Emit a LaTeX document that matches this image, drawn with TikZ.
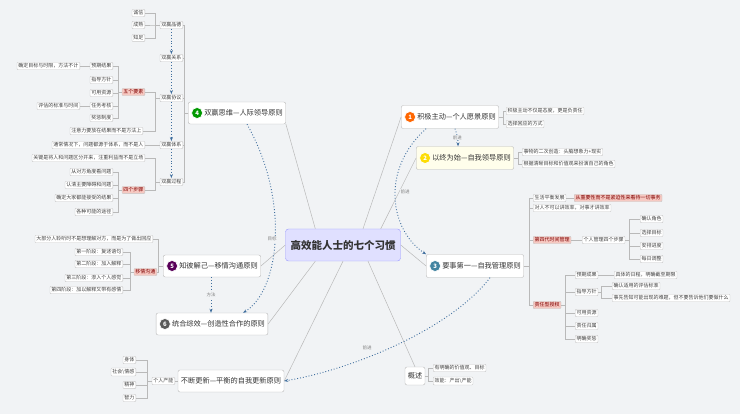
\documentclass[tikz,border=0pt]{standalone}
\usepackage{fontspec}
\setmainfont{Noto Sans CJK SC}
\usetikzlibrary{arrows.meta,calc}
\definecolor{bg}{HTML}{F1F3F5}
\definecolor{redf}{HTML}{F6C9C2}
\definecolor{lnk}{HTML}{3F6E9E}
\tikzset{
 sm/.style={draw=gray!45,fill=white,rounded corners=1pt,inner sep=1.4pt,font=\fontsize{5}{6}\selectfont,text=black!75},
 rd/.style={sm,fill=redf,text=red!50!black},
 big/.style={draw=gray!55,fill=white,rounded corners=2pt,inner sep=3pt,font=\fontsize{7.2}{9}\selectfont,text=black!80},
 conn/.style={draw=gray!55,line width=0.5pt},
 ray/.style={draw=gray!55,line width=0.5pt},
 dot/.style={draw=lnk,dotted,line width=0.9pt,-{Stealth[length=4pt]}},
 lab/.style={font=\fontsize{4.5}{5}\selectfont,text=gray,fill=bg,inner sep=0.5pt},
 ico/.style={circle,fill=#1,draw=white,line width=0.6pt,text=white,inner sep=0pt,minimum size=11pt,font=\fontsize{6}{6}\selectfont\bfseries}
}
\begin{document}
\begin{tikzpicture}[x=1pt,y=-1pt]
\fill[bg] (0,0) rectangle (740,414);
\useasboundingbox (0,0) rectangle (740,414);
% center
\node[draw=blue!40,fill=blue!12,rounded corners=3pt,minimum width=115pt,minimum height=32pt,font=\fontsize{10.5}{11}\selectfont\bfseries,text=black!80] (c) at (343,245) {高效能人士的七个习惯};
% main nodes
\node[big,minimum width=97pt,minimum height=22pt] (h4) at (237,113) {\hspace{13pt}双赢思维—人际领导原则};
\node[ico=green!60!black] at ($(h4.west)+(9,0)$) {4};
\node[big,minimum width=95pt,minimum height=22pt] (h5) at (212,266) {\hspace{13pt}知彼解己—移情沟通原则};
\node[ico=violet!70!black] at ($(h5.west)+(9,0)$) {5};
\node[big,minimum width=110pt,minimum height=22pt] (h6) at (212,324) {\hspace{13pt}统合综效—创造性合作的原则};
\node[ico=gray!70!black] at ($(h6.west)+(9,0)$) {6};
\node[big,minimum width=101pt,minimum height=22pt] (h7) at (231,381) {不断更新—平衡的自我更新原则};
\node[big,minimum width=93pt,minimum height=23pt] (h1) at (450,117) {\hspace{13pt}积极主动—个人愿景原则};
\node[ico=orange!80!red] at ($(h1.west)+(9,0)$) {1};
\node[big,minimum width=95pt,minimum height=23pt,fill=yellow!8] (h2) at (465,158) {\hspace{13pt}以终为始—自我领导原则};
\node[ico=yellow!80!orange] at ($(h2.west)+(9,0)$) {2};
\node[big,minimum width=95pt,minimum height=23pt] (h3) at (475,266) {\hspace{13pt}要事第一—自我管理原则};
\node[ico=cyan!60!black] at ($(h3.west)+(9,0)$) {3};
\node[big,minimum width=20pt,minimum height=18pt,inner sep=1pt] (gs) at (415,376) {概述};
% rays
\draw[ray] ($(c.north west)+(30,0)$) -- (h4.south east);
\draw[ray] (c.west) -- (h5.east);
\draw[ray] ($(c.south west)+(30,0)$) -- (h6.east);
\draw[ray] (c.south) -- (h7.east);
\draw[ray] ($(c.north)+(20,0)$) -- (h1.west);
\draw[ray] ($(c.north east)+(-20,0)$) -- (h2.west);
\draw[ray] (c.east) -- (h3.west);
\draw[ray] ($(c.south)+(25,0)$) -- (gs.north);
% H4 subtree
\node[sm,anchor=east] (p1) at (183,25) {双赢品德};
\node[sm,anchor=east] (p2) at (183,58) {双赢关系};
\node[sm,anchor=east] (p3) at (183,98) {双赢协议};
\node[sm,anchor=east] (p4) at (183,145) {双赢体系};
\node[sm,anchor=east] (p5) at (183,182) {双赢过程};
\foreach \p in {p1,p2,p3,p4,p5} \draw[conn] (h4.west) -- ++(-4,0) |- (\p.east);
\draw[dot] (p1.south) -- (p2.north);
\draw[dot] (p2.south) -- (p3.north);
\draw[dot] (p3.south) -- (p4.north);
\draw[dot] (p4.south) -- (p5.north);
\node[sm,anchor=east] (q1) at (145,13) {诚信};
\node[sm,anchor=east] (q2) at (145,25) {成熟};
\node[sm,anchor=east] (q3) at (145,38) {知足};
\foreach \p in {q1,q2,q3} \draw[conn] (p1.west) -- ++(-5,0) |- (\p.east);
\node[rd,anchor=east] (wy) at (145,92) {五个要素};
\node[sm,anchor=east] (zy) at (143,131) {注意力要放在结果而不是方法上};
\draw[conn] (p3.west) -- ++(-5,0) |- (wy.east);
\draw[conn] (p3.west) -- ++(-5,0) |- (zy.east);
\node[sm,anchor=east] (r1) at (113,66) {预期结果};
\node[sm,anchor=east] (r2) at (113,80) {指导方针};
\node[sm,anchor=east] (r3) at (113,93) {可用资源};
\node[sm,anchor=east] (r4) at (113,106) {任务考核};
\node[sm,anchor=east] (r5) at (113,118) {奖惩制度};
\foreach \p in {r1,r2,r3,r4,r5} \draw[conn] (wy.west) -- ++(-4,0) |- (\p.east);
\node[sm,anchor=east] (r1a) at (80,66) {确定目标与时限，方法不计};
\draw[conn] (r1.west) -- (r1a.east);
\node[sm,anchor=east] (r4a) at (80,106) {评估的标准与时间};
\draw[conn] (r4.west) -- (r4a.east);
\node[sm,anchor=east] (p4a) at (145,145) {通常情况下，问题都源于体系，而不是人};
\draw[conn] (p4.west) -- (p4a.east);
\node[sm,anchor=east] (gj) at (145,158) {关键是将人和问题区分开来，注重利益而不是立场};
\node[rd,anchor=east] (sg) at (145,190) {四个步骤};
\draw[conn] (p5.west) -- ++(-5,0) |- (gj.east);
\draw[conn] (p5.west) -- ++(-5,0) |- (sg.east);
\node[sm,anchor=east] (s1) at (113,172) {从对方角度看问题};
\node[sm,anchor=east] (s2) at (113,185) {认清主要障碍和问题};
\node[sm,anchor=east] (s3) at (113,198) {确定大家都能接受的结果};
\node[sm,anchor=east] (s4) at (113,212) {各种可能的途径};
\foreach \p in {s1,s2,s3,s4} \draw[conn] (sg.west) -- ++(-4,0) |- (\p.east);
% H5 subtree
\node[sm,anchor=east] (t0) at (153,239) {大部分人聆听时不是想理解对方，而是为了做出回应};
\node[rd,anchor=east] (yq) at (157,272) {移情沟通};
\draw[conn] (h5.west) -- ++(-5,0) |- (t0.east);
\draw[conn] (h5.west) -- ++(-5,0) |- (yq.east);
\node[sm,anchor=east] (t1) at (123,252) {第一阶段：复述语句};
\node[sm,anchor=east] (t2) at (123,264) {第二阶段：加入解释};
\node[sm,anchor=east] (t3) at (123,278) {第三阶段：渗入个人感觉};
\node[sm,anchor=east] (t4) at (123,290) {第四阶段：加以解释又带有感情};
\foreach \p in {t1,t2,t3,t4} \draw[conn] (yq.west) -- ++(-4,0) |- (\p.east);
% H7 subtree
\node[sm,anchor=east] (gr) at (175,381) {个人产能};
\draw[conn] (h7.west) -- (gr.east);
\node[sm,anchor=east] (u1) at (136,360) {身体};
\node[sm,anchor=east] (u2) at (136,372) {社会\textbackslash 情感};
\node[sm,anchor=east] (u3) at (136,385) {精神};
\node[sm,anchor=east] (u4) at (136,398) {智力};
\foreach \p in {u1,u2,u3,u4} \draw[conn] (gr.west) -- ++(-5,0) |- (\p.east);
% H1, H2
\node[sm,anchor=west] (v1) at (506,111) {积极主动不仅是态度，更是负责任};
\node[sm,anchor=west] (v2) at (506,124) {选择回应的方式};
\foreach \p in {v1,v2} \draw[conn] (h1.east) -- ++(4,0) |- (\p.west);
\node[sm,anchor=west] (w1) at (522,152) {事物的二次创造：头脑想象力+现实};
\node[sm,anchor=west] (w2) at (522,164) {根据清晰目标和价值观来扮演自己的角色};
\foreach \p in {w1,w2} \draw[conn] (h2.east) -- ++(4,0) |- (\p.west);
% H3 subtree
\node[sm,anchor=west] (x1) at (533,198) {生活平衡发展};
\node[rd,anchor=west] (x1a) at (574,198) {从重要性而不是紧迫性来看待一切事务};
\draw[conn] (x1.east) -- (x1a.west);
\node[sm,anchor=west] (x2) at (533,208) {对人不可以讲效率，对事才讲效率};
\node[rd,anchor=west] (x3) at (533,240) {第四代时间管理};
\node[sm,anchor=west] (x3a) at (582,240) {个人管理四个步骤};
\draw[conn] (x3.east) -- (x3a.west);
\node[rd,anchor=west] (x4) at (533,305) {责任型授权};
\foreach \p in {x1,x2,x3,x4} \draw[conn] (h3.east) -- ++(5,0) |- (\p.west);
\node[sm,anchor=west] (y1) at (640,219) {确认角色};
\node[sm,anchor=west] (y2) at (640,233) {选择目标};
\node[sm,anchor=west] (y3) at (640,246) {安排进度};
\node[sm,anchor=west] (y4) at (640,259) {每日调整};
\foreach \p in {y1,y2,y3,y4} \draw[conn] (x3a.east) -- ++(4,0) |- (\p.west);
\node[sm,anchor=west] (z1) at (575,275) {预期成果};
\node[sm,anchor=west] (z2) at (575,292) {指导方针};
\node[sm,anchor=west] (z3) at (575,313) {可用资源};
\node[sm,anchor=west] (z4) at (575,326) {责任归属};
\node[sm,anchor=west] (z5) at (575,339) {明确奖惩};
\foreach \p in {z1,z2,z3,z4,z5} \draw[conn] (x4.east) -- ++(4,0) |- (\p.west);
\node[sm,anchor=west] (z1a) at (614,275) {具体的日程，明确截至期限};
\draw[conn] (z1.east) -- (z1a.west);
\node[sm,anchor=west] (z2a) at (612,286) {确认适用的评估标准};
\node[sm,anchor=west] (z2b) at (612,298) {事先告知可能出现的难题，但不要告诉他们要做什么};
\foreach \p in {z2a,z2b} \draw[conn] (z2.east) -- ++(3,0) |- (\p.west);
% 概述
\node[sm,anchor=west] (g1) at (433,368) {有明确的价值观、目标};
\node[sm,anchor=west] (g2) at (433,381) {效能：产出\textbackslash 产能};
\foreach \p in {g1,g2} \draw[conn] (gs.east) -- ++(3,0) |- (\p.west);
% dotted relations
\draw[dot] ($(h1.south)+(5,0)$) to[bend left=10] node[lab]{前进} ($(h2.north)+(-7,0)$);
\draw[dot] ($(h1.south west)+(25,0)$) .. controls (380,170) and (390,230) .. (h3.north west);
\node[lab] at (405,192) {前进};
\draw[dot] ($(h4.south)+(10,0)$) .. controls (290,200) and (280,290) .. ($(h6.north east)+(-25,0)$);
\node[lab] at (272,239) {目标};
\draw[dot] ($(h5.south)+(-1,0)$) -- node[lab]{方法} ($(h6.north)+(-1,0)$);
\draw[dot] ($(h3.south)+(15,0)$) .. controls (450,330) and (350,370) .. (h7.east);
\node[lab] at (367,348) {前进};
\end{tikzpicture}
\end{document}
